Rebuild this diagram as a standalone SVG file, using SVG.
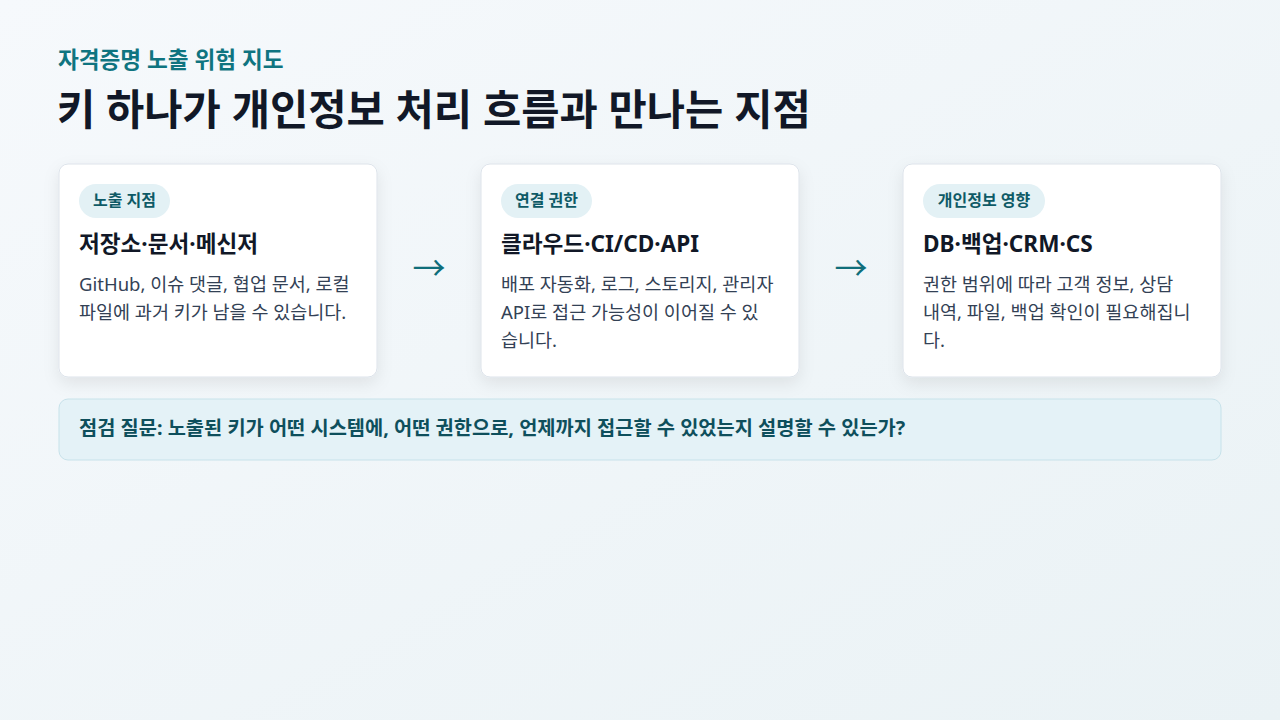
<svg xmlns="http://www.w3.org/2000/svg" width="1280" height="720" viewBox="0 0 1280 720">
<defs>
<linearGradient id="bg" x1="0" y1="0" x2="1" y2="1">
<stop offset="0" stop-color="#f6f9fc"/>
<stop offset="1" stop-color="#eaf2f5"/>
</linearGradient>
<filter id="sh" x="-10%" y="-10%" width="120%" height="130%">
<feDropShadow dx="0" dy="6" stdDeviation="8" flood-color="#0f172a" flood-opacity="0.08"/>
</filter>
</defs>
<style>
text{font-family:"Noto Sans","Noto Sans CJK KR",sans-serif}
.card{fill:#ffffff;stroke:#dde3ea;stroke-width:1}
.pill{fill:#e3f1f5}
.pt{font-size:16px;font-weight:700;fill:#0e5a66}
.ct{font-size:22.6px;font-weight:700;fill:#111827}
.bt{font-size:18.5px;fill:#334155}
.arr{font-size:33px;fill:#0f6e7a}
</style>
<rect width="1280" height="720" fill="url(#bg)"/>
<g id="header">
<text x="58" y="68" font-size="22.6" font-weight="700" fill="#0f7480">자격증명 노출 위험 지도</text>
<text x="57" y="125" font-size="41.6" font-weight="700" fill="#111827">키 하나가 개인정보 처리 흐름과 만나는 지점</text>
</g>
<g id="node1">
<rect class="card" x="59" y="164" width="318" height="213" rx="9" filter="url(#sh)"/>
<rect class="pill" x="79" y="184" width="91" height="34" rx="17"/>
<text class="pt" x="124.5" y="206" text-anchor="middle">노출 지점</text>
<text class="ct" x="79" y="252">저장소·문서·메신저</text>
<text class="bt" x="79" y="291">GitHub, 이슈 댓글, 협업 문서, 로컬</text>
<text class="bt" x="79" y="319">파일에 과거 키가 남을 수 있습니다.</text>
</g>
<g id="node2">
<rect class="card" x="481" y="164" width="318" height="213" rx="9" filter="url(#sh)"/>
<rect class="pill" x="501" y="184" width="91" height="34" rx="17"/>
<text class="pt" x="546.5" y="206" text-anchor="middle">연결 권한</text>
<text class="ct" x="501" y="252">클라우드·CI/CD·API</text>
<text class="bt" x="501" y="291">배포 자동화, 로그, 스토리지, 관리자</text>
<text class="bt" x="501" y="319">API로 접근 가능성이 이어질 수 있</text>
<text class="bt" x="501" y="347">습니다.</text>
</g>
<g id="node3">
<rect class="card" x="903" y="164" width="318" height="213" rx="9" filter="url(#sh)"/>
<rect class="pill" x="923" y="184" width="122" height="34" rx="17"/>
<text class="pt" x="984" y="206" text-anchor="middle">개인정보 영향</text>
<text class="ct" x="923" y="252">DB·백업·CRM·CS</text>
<text class="bt" x="923" y="291">권한 범위에 따라 고객 정보, 상담</text>
<text class="bt" x="923" y="319">내역, 파일, 백업 확인이 필요해집니</text>
<text class="bt" x="923" y="347">다.</text>
</g>
<g id="connectors">
<text class="arr" x="429" y="280" text-anchor="middle">→</text>
<text class="arr" x="851" y="280" text-anchor="middle">→</text>
</g>
<g id="question">
<rect x="59" y="399" width="1162" height="61" rx="9" fill="#e4f2f7" stroke="#c7e2ea" stroke-width="1"/>
<text x="79" y="435" font-size="19.8" font-weight="700" fill="#0e4f5c">점검 질문: 노출된 키가 어떤 시스템에, 어떤 권한으로, 언제까지 접근할 수 있었는지 설명할 수 있는가?</text>
</g>
</svg>
